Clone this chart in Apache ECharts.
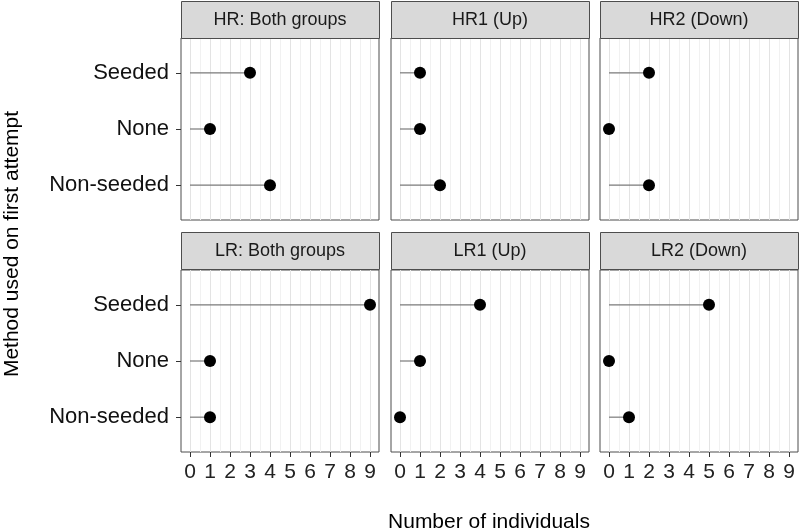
<!DOCTYPE html>
<html>
<head>
<meta charset="utf-8">
<script src="https://cdn.jsdelivr.net/npm/echarts@6/dist/echarts.min.js"></script>
<style>
  html, body { margin: 0; padding: 0; background: #fff; }
  #chart { width: 800px; height: 531px; }
</style>
</head>
<body>
<div id="chart"></div>
<script>
// facet names and categories
var panels = ['HR: Both groups', 'HR1 (Up)', 'HR2 (Down)', 'LR: Both groups', 'LR1 (Up)', 'LR2 (Down)'];
var methods = ['Seeded', 'None', 'Non-seeded'];

// counts per method (Seeded, None, Non-seeded)
var hrBoth = [3, 1, 4];
var hr1Up = [1, 1, 2];
var hr2Down = [2, 0, 2];
var lrBoth = [9, 1, 1];
var lr1Up = [4, 1, 0];
var lr2Down = [5, 0, 1];
var panelValues = [hrBoth, hr1Up, hr2Down, lrBoth, lr1Up, lr2Down];

// axis ticks
var xTicks = [0, 1, 2, 3, 4, 5, 6, 7, 8, 9];
var xMinor = [0.5, 1.5, 2.5, 3.5, 4.5, 5.5, 6.5, 7.5, 8.5];
var yTicks = [1, 2, 3];

var colLeft = [181, 391, 600];
var rowTop = [38, 270];
var panelW = 198;
var panelH = 182;
var stripH = 37;
var FONT = '"Liberation Sans", Arial, sans-serif';

var chart = echarts.init(document.getElementById('chart'));

var grids = [], xAxes = [], yAxes = [], series = [], graphics = [];

panels.forEach(function (name, i) {
  var col = i % 3, row = Math.floor(i / 3);
  var bottom = row === 1, left = col === 0;

  grids.push({
    left: colLeft[col], top: rowTop[row], width: panelW, height: panelH,
    show: true, borderColor: '#4d4d4d', borderWidth: 1, backgroundColor: '#fff'
  });

  // main x axis: integer ticks, labels, major grid
  xAxes.push({
    type: 'value', gridIndex: i, min: -0.45, max: 9.45, position: 'bottom',
    axisLine: { show: false, onZero: false },
    axisTick: { show: bottom, length: 5, customValues: xTicks, lineStyle: { color: '#333' } },
    axisLabel: { show: bottom, customValues: xTicks, color: '#222', fontSize: 21, margin: 10,
      fontFamily: FONT },
    splitLine: { show: true, lineStyle: { color: '#e3e3e3', width: 1 } }
  });
  // helper x axis: minor grid lines at halves
  xAxes.push({
    type: 'value', gridIndex: i, min: -0.45, max: 9.45, position: 'top',
    axisLine: { show: false, onZero: false },
    axisTick: { show: false, customValues: xMinor },
    axisLabel: { show: false },
    splitLine: { show: true, lineStyle: { color: '#f1f1f1', width: 1 } }
  });

  yAxes.push({
    type: 'value', gridIndex: i, min: 0.38, max: 3.62, inverse: true, position: 'left',
    axisLine: { show: false, onZero: false },
    axisTick: { show: left, length: 5, customValues: yTicks, lineStyle: { color: '#333' } },
    axisLabel: { show: left, customValues: yTicks, color: '#111', fontSize: 22, margin: 12,
      fontFamily: FONT,
      formatter: function (v) { return methods[v - 1]; } },
    splitLine: { show: false }
  });

  var data = panelValues[i].map(function (v, k) { return [v, k + 1]; });

  series.push({
    type: 'custom', xAxisIndex: i * 2, yAxisIndex: i, data: data, z: 2,
    encode: { x: 0, y: 1 },
    renderItem: function (params, api) {
      var s = api.coord([0, api.value(1)]);
      var e = api.coord([api.value(0), api.value(1)]);
      return { type: 'line', shape: { x1: s[0], y1: s[1], x2: e[0], y2: e[1] },
        style: { stroke: '#7a7a7a', lineWidth: 1.2 } };
    }
  });
  series.push({
    type: 'scatter', xAxisIndex: i * 2, yAxisIndex: i, data: data, z: 3,
    symbol: 'circle', symbolSize: 12, itemStyle: { color: '#000', opacity: 1 }
  });

  // facet strip
  var stripTop = row === 0 ? 1 : 232;
  graphics.push({
    type: 'rect', left: colLeft[col], top: stripTop, z: 100,
    shape: { width: panelW, height: stripH },
    style: { fill: '#d9d9d9', stroke: '#4d4d4d', lineWidth: 1 }
  });
  graphics.push({
    type: 'text', x: colLeft[col] + panelW / 2, y: stripTop + stripH / 2 + 1, z: 101,
    style: { text: name, fill: '#1a1a1a', font: '18px ' + FONT,
      align: 'center', verticalAlign: 'middle' }
  });
});

graphics.push({
  type: 'text', x: 489, y: 522,
  style: { text: 'Number of individuals', fill: '#000', font: '21px ' + FONT,
    align: 'center', verticalAlign: 'middle' }
});
graphics.push({
  type: 'text', x: 12, y: 244, rotation: Math.PI / 2,
  style: { text: 'Method used on first attempt', fill: '#000', font: '21px ' + FONT,
    align: 'center', verticalAlign: 'middle' }
});

chart.setOption({
  backgroundColor: '#fff',
  animation: false,
  grid: grids,
  xAxis: xAxes,
  yAxis: yAxes,
  series: series,
  graphic: graphics
});
</script>
</body>
</html>
